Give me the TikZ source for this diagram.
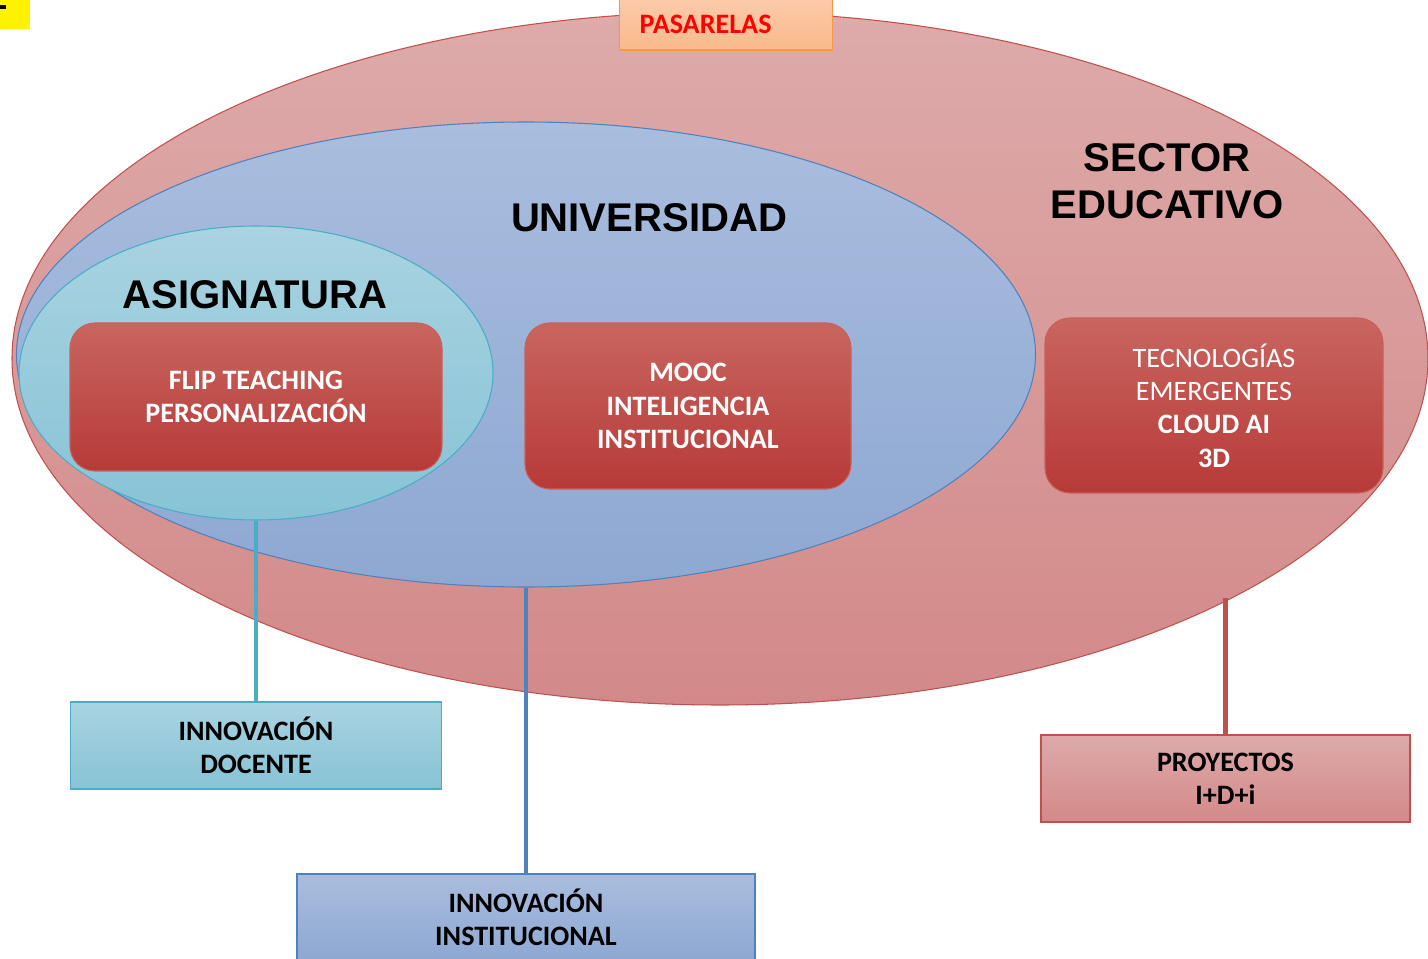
\documentclass[tikz,border=0pt]{standalone}
\usepackage{fontspec}
\setmainfont{Carlito}
\newfontfamily\arialfont{Liberation Sans}
\usetikzlibrary{shapes.geometric}

\newlength{\du}
\setlength{\du}{0.02cm}

\definecolor{sectortop}{HTML}{DEAAAA}
\definecolor{sectorbottom}{HTML}{D38989}
\definecolor{sectorline}{HTML}{C0504D}
\definecolor{unitop}{HTML}{A9BDDE}
\definecolor{unibottom}{HTML}{8EA8D2}
\definecolor{uniline}{HTML}{4F81BD}
\definecolor{asigtop}{HTML}{A9D3E1}
\definecolor{asigbottom}{HTML}{87C3D6}
\definecolor{asigline}{HTML}{4BACC6}
\definecolor{redtop}{HTML}{C9655F}
\definecolor{redbottom}{HTML}{B73A38}
\definecolor{redline}{HTML}{C9605C}
\definecolor{pastop}{HTML}{FBCBAB}
\definecolor{pasbottom}{HTML}{FAB98B}
\definecolor{pasline}{HTML}{F79646}

\tikzset{
  zone/.style={ellipse, line width=0.6pt, inner sep=0pt},
  zonetitle/.style={font=\arialfont\bfseries\fontsize{22.8}{26.6}\selectfont, align=center, inner sep=0pt},
  redbox/.style={rectangle, rounded corners=25\du, draw=redline, line width=0.6pt,
    top color=redtop, bottom color=redbottom, text=white, align=center, inner sep=0pt,
    font=\bfseries\fontsize{16}{19}\selectfont},
  outbox/.style={rectangle, line width=0.8pt, align=center, inner sep=0pt,
    minimum height=87\du, font=\bfseries\fontsize{16}{19}\selectfont},
  link/.style={line width=2.4pt}
}

\begin{document}
\begin{tikzpicture}
\pgftransformxscale{1.000000}
\pgftransformyscale{-1.000000}
\useasboundingbox (0\du,0\du) rectangle (1428\du,959\du);
% marker
\fill[yellow] (0\du,0\du) rectangle (30\du,29\du);
\fill[black] (0\du,5\du) rectangle (6\du,9\du);
% zones
\node[zone, draw=sectorline, top color=sectortop, bottom color=sectorbottom,
  minimum width=1416\du, minimum height=693\du] (sector) at (720\du,358.5\du) {};
\node[zone, draw=uniline, top color=unitop, bottom color=unibottom,
  minimum width=1019\du, minimum height=465\du] (uni) at (526\du,354.5\du) {};
\node[zone, draw=asigline, top color=asigtop, bottom color=asigbottom,
  minimum width=474\du, minimum height=294\du] (asig) at (256\du,373\du) {};
% titles
\node[zonetitle] (sectortitle) at (1167\du,181\du) {SECTOR\\EDUCATIVO};
\node[zonetitle] (unititle) at (649\du,218\du) {UNIVERSIDAD};
\node[zonetitle] (asigtitle) at (255\du,295\du) {ASIGNATURA};
% boxes inside the zones
\node[redbox, minimum width=372\du, minimum height=148\du] (flip) at (256\du,397\du)
  {FLIP TEACHING\\PERSONALIZACIÓN};
\node[redbox, minimum width=326\du, minimum height=166\du] (mooc) at (688\du,406\du)
  {MOOC\\INTELIGENCIA\\INSTITUCIONAL};
\node[redbox, minimum width=338\du, minimum height=175\du] (tec) at (1214\du,405.5\du)
  {{\mdseries TECNOLOGÍAS}\\{\mdseries EMERGENTES}\\CLOUD AI\\3D};
\node[outbox, draw=pasline, top color=pastop, bottom color=pasbottom, text=red,
  anchor=west, inner xsep=20\du, text width=173\du, align=left, minimum height=52\du]
  (pasarelas) at (619\du,24\du) {PASARELAS};
% outcome boxes
\node[outbox, draw=asigline, top color=asigtop, bottom color=asigbottom,
  minimum width=371\du] (docente) at (256\du,745.5\du) {INNOVACIÓN\\DOCENTE};
\node[outbox, draw=uniline, top color=unitop, bottom color=unibottom,
  minimum width=458\du] (institucional) at (526\du,917.5\du) {INNOVACIÓN\\INSTITUCIONAL};
\node[outbox, draw=sectorline, top color=sectortop, bottom color=sectorbottom,
  minimum width=369\du] (proyectos) at (1225.5\du,778.5\du) {PROYECTOS\\I+D+i};
% links
\draw[link, asigline] (asig.south) -- (docente.north);
\draw[link, uniline] (uni.south) -- (institucional.north);
\draw[link, sectorline] (proyectos.north) -- (proyectos.north |- sector.-25.6);
\end{tikzpicture}
\end{document}
